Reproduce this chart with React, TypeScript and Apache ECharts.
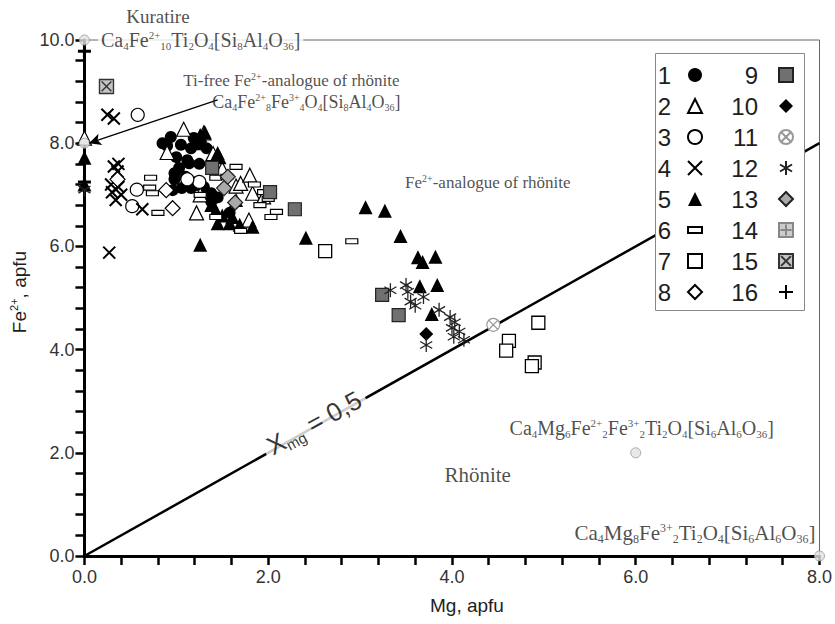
import React, { useEffect, useRef } from "react";
import * as echarts from "echarts";

// ---------- data (apfu) ----------
const xTickRange = [0, 8];
const yTickRange = [0, 10];

const s1Points = [[0.85,8.0],[0.94,8.12],[1.05,7.97],[1.19,8.1],[1.16,7.9],[1.0,7.73],[1.12,7.67],[1.03,7.52],[0.98,7.3],[0.96,7.09],[1.06,7.13],[1.16,7.13],[1.22,7.19],[1.3,7.15],[1.22,7.25],[1.26,8.02],[1.33,7.9],[1.38,7.03],[1.38,6.87],[1.58,6.65],[1.1,7.35],[1.25,7.6],[1.45,6.95],[0.9,7.95],[1.14,7.61],[0.98,7.42]];
const s2Points = [[0,8.1],[1.08,8.27],[0.9,7.82],[1.26,7.0],[1.22,6.65],[1.4,7.8],[1.3,8.2],[1.65,7.17],[1.7,7.22],[1.8,7.38],[1.83,7.03],[1.95,6.96],[1.79,6.51],[1.5,7.5]];
const s3Points = [[0.58,8.55],[0.57,7.1],[0.52,6.78],[1.25,7.25],[1.12,7.3]];
const s4Points = [[0.25,8.55],[0.32,8.48],[0.32,7.55],[0.37,7.6],[0.36,7.45],[0.29,7.2],[0.37,7.15],[0.3,7.05],[0.4,7.0],[0.34,6.9],[0.63,6.72],[0.27,5.88]];
const s5Points = [[0,7.72],[0,7.2],[1.22,8.0],[1.26,8.16],[1.31,8.21],[1.45,7.81],[1.47,7.73],[1.38,6.8],[1.43,6.7],[1.45,6.45],[1.58,6.45],[1.61,6.57],[1.69,6.42],[1.83,6.38],[1.26,6.03],[2.41,6.17],[3.06,6.76],[3.27,6.69],[3.44,6.2],[3.63,5.79],[3.68,5.7],[3.82,5.8],[3.65,5.23],[3.84,5.25],[3.78,4.69],[1.5,6.6],[1.65,6.9]];
const s6Points = [[0.72,7.33],[0.71,7.14],[0.74,7.03],[0.8,6.65],[1.43,7.33],[1.65,7.54],[1.55,7.35],[1.85,7.2],[1.95,7.05],[2.0,6.92],[1.91,6.8],[2.09,6.67],[2.03,6.57],[1.43,6.57],[1.26,7.0],[2.91,6.1],[1.7,6.3]];
const s7Points = [[2.62,5.91],[4.94,4.52],[4.62,4.17],[4.59,3.98],[4.9,3.75],[4.87,3.68]];
const s8Points = [[0.36,7.3],[0.89,7.09],[0.96,6.74]];
const s9Points = [[1.39,7.52],[2.02,7.05],[2.29,6.72],[3.24,5.06],[3.42,4.67]];
const s10Points = [[3.72,4.3]];
const s11Points = [[4.45,4.48]];
const s12Points = [[0,7.1],[3.33,5.15],[3.5,5.25],[3.52,5.12],[3.55,4.93],[3.69,5.02],[3.6,4.85],[3.86,4.77],[3.98,4.63],[4.03,4.53],[4.0,4.42],[4.02,4.25],[4.13,4.19],[3.72,4.09],[4.08,4.35]];
const s13Points = [[1.52,7.13],[1.64,6.85],[1.56,7.35]];
const s14Points: number[][] = [];
const s15Points = [[0.24,9.1]];
const s16Points = [[0,9.78],[0,7.25]];

const seriesNames = ["1","2","3","4","5","6","7","8","9","10","11","12","13","14","15","16"];
const seriesPoints = [s1Points,s2Points,s3Points,s4Points,s5Points,s6Points,s7Points,s8Points,s9Points,s10Points,s11Points,s12Points,s13Points,s14Points,s15Points,s16Points];

// end-member compositions
const endMemberPoints = [[0,10],[0,8],[6,2],[8,0]];
const endMemberFormulas = [
  "Ca_4Fe^2+_10Ti_2O_4[Si_8Al_4O_36]",
  "",
  "Ca_4Mg_6Fe^2+_2Fe^3+_2Ti_2O_4[Si_6Al_6O_36]",
  "Ca_4Mg_8Fe^3+_2Ti_2O_4[Si_6Al_6O_36]",
];

// X_mg = 0.5 line
const xmgLine = [[0,0],[8,8]];

// field / end-member annotations (data coordinates)
const annotationTexts = ["Kuratire","Ti-free Fe^2+-analogue of rhönite","Ca_4Fe^2+_8Fe^3+_4O_4[Si_8Al_4O_36]","Fe^2+-analogue of rhönite","Rhönite"];
const annotationCoords = [[0.8,10.45],[3.43,9.21],[3.44,8.79],[4.39,7.23],[4.28,1.57]];
const xmgLabelCoord = [2.5,2.58];
const arrowFrom = [1.45,8.84];
const arrowTo = [0.05,8.0];

// ---------- helpers ----------
function toRich(s: string): string {
  const re = /_(\d+)|\^(\d+\+)|([^_^]+)/g;
  let out = "";
  let m: RegExpExecArray | null;
  while ((m = re.exec(s))) {
    if (m[1]) out += `{b|${m[1]}}`;
    else if (m[2]) out += `{t|${m[2]}}`;
    else out += `{n|${m[3]}}`;
  }
  return out;
}

const SERIF = "Liberation Serif";
const SANS = "Liberation Sans";
const INK = "#1e1e1e";

function serifRich(size: number) {
  const small = Math.round(size * 0.56);
  return {
    n: { fontFamily: SERIF, fontSize: size, lineHeight: Math.round(size * 1.1), color: INK },
    b: { fontFamily: SERIF, fontSize: small, lineHeight: small, verticalAlign: "bottom", color: INK },
    t: { fontFamily: SERIF, fontSize: small, lineHeight: small - 1, verticalAlign: "top", color: INK },
  };
}

const P_X = "path://M0,0L10,10M10,0L0,10";
const P_AST = "path://M5,0L5,10M0.7,2.5L9.3,7.5M0.7,7.5L9.3,2.5";
const P_PLUS = "path://M5,0L5,10M0,5L10,5";
const P_CX = "path://M10,5A5,5,0,1,1,0,5A5,5,0,1,1,10,5ZM1.8,1.8L8.2,8.2M8.2,1.8L1.8,8.2";
const P_SQPLUS = "path://M0,0H10V10H0ZM5,1V9M1,5H9";
const P_SQX = "path://M0,0H10V10H0ZM1.5,1.5L8.5,8.5M8.5,1.5L1.5,8.5";
const P_BAR = "path://M0,0H12V5H0Z";

const markerStyles: any[] = [
  { symbol: "circle", size: 12, color: "#000", border: "#000", bw: 0 },
  { symbol: "triangle", size: 14, color: "#fff", border: "#000", bw: 1.2 },
  { symbol: "circle", size: 13, color: "#fff", border: "#000", bw: 1.2 },
  { symbol: P_X, size: 12, color: "rgba(0,0,0,0)", border: "#000", bw: 2 },
  { symbol: "triangle", size: 14, color: "#000", border: "#000", bw: 0 },
  { symbol: P_BAR, size: 12, color: "#fff", border: "#000", bw: 1.2 },
  { symbol: "rect", size: 13, color: "#fff", border: "#000", bw: 1.3 },
  { symbol: "diamond", size: 15, color: "#fff", border: "#000", bw: 1.2 },
  { symbol: "rect", size: 13, color: "#707070", border: "#222", bw: 1.2 },
  { symbol: "diamond", size: 14, color: "#000", border: "#000", bw: 0 },
  { symbol: P_CX, size: 13, color: "#fff", border: "#999", bw: 1.2 },
  { symbol: P_AST, size: 14, color: "rgba(0,0,0,0)", border: "#222", bw: 1.3 },
  { symbol: "diamond", size: 15, color: "#aaa", border: "#222", bw: 1.2 },
  { symbol: P_SQPLUS, size: 13, color: "#ccc", border: "#888", bw: 1 },
  { symbol: P_SQX, size: 14, color: "#c4c4c4", border: "#333", bw: 1.4 },
  { symbol: P_PLUS, size: 13, color: "rgba(0,0,0,0)", border: "#000", bw: 3 },
];

function buildOption(): any {
  const dataSeries = seriesNames.map((name, i) => {
    const st = markerStyles[i];
    return {
      name,
      type: "scatter",
      data: seriesPoints[i],
      symbol: st.symbol,
      symbolSize: st.size,
      symbolKeepAspect: true,
      clip: false,
      silent: true,
      z: 3,
      itemStyle: { color: st.color, borderColor: st.border, borderWidth: st.bw, opacity: 1 },
    };
  });

  const endMemberData = endMemberPoints.map((p, i) => {
    const item: any = { value: p, name: endMemberFormulas[i] };
    if (i === 0) item.label = { show: true, position: "right", distance: 8, backgroundColor: "#fff", padding: [0, 3, 0, 3], rich: serifRich(20) };
    if (i === 2) item.label = { show: true, position: "top", distance: 8, offset: [6, 0], rich: serifRich(20) };
    if (i === 3) item.label = { show: true, position: "top", align: "right", distance: 6, offset: [-4, 0], rich: serifRich(21) };
    return item;
  });

  const annotationSizes = [19, 17, 18, 17, 21];
  const annotationData: any[] = annotationTexts.map((t, i) => {
    const item: any = { value: annotationCoords[i], name: t, label: { rich: serifRich(annotationSizes[i]) } };
    if (i === 1 || i === 2) {
      item.label.position = "left";
      item.label.distance = 0;
    }
    return item;
  });

  return {
    animation: false,
    backgroundColor: "#fff",
    textStyle: { fontFamily: SANS },
    grid: { left: 68, right: 13, top: 40, bottom: 68, show: true, borderColor: "#666", borderWidth: 1 },
    xAxis: {
      type: "value",
      min: xTickRange[0],
      max: xTickRange[1],
      interval: 2,
      name: "Mg, apfu",
      nameLocation: "middle",
      nameGap: 40,
      nameTextStyle: { fontFamily: SANS, fontSize: 19, color: INK, padding: [0, 0, 0, 30] },
      axisLine: { lineStyle: { color: "#000", width: 3 } },
      axisTick: { show: true, length: 9, lineStyle: { color: "#000", width: 2.5 } },
      minorTick: { show: true, splitNumber: 5, length: 9, lineStyle: { color: "#000", width: 2.5 } },
      splitLine: { show: false },
      axisLabel: { fontFamily: SANS, fontSize: 18, color: "#333", margin: 12, formatter: (v: number) => v.toFixed(1) },
    },
    yAxis: {
      type: "value",
      min: yTickRange[0],
      max: yTickRange[1],
      interval: 2,
      name: "{a|Fe}{s|2+}{a|, apfu}",
      nameLocation: "middle",
      nameGap: 36,
      nameTextStyle: {
        padding: [0, 0, 0, 12],
        rich: {
          a: { fontFamily: SANS, fontSize: 19, lineHeight: 22, color: INK },
          s: { fontFamily: SANS, fontSize: 11, lineHeight: 11, verticalAlign: "top", color: INK },
        },
      },
      axisLine: { lineStyle: { color: "#000", width: 3 } },
      axisTick: { show: true, length: 9, lineStyle: { color: "#000", width: 2.5 } },
      minorTick: { show: true, splitNumber: 5, length: 9, lineStyle: { color: "#000", width: 2.5 } },
      splitLine: { show: false },
      axisLabel: { fontFamily: SANS, fontSize: 18, color: "#333", margin: 10, formatter: (v: number) => v.toFixed(1) },
    },
    legend: [
      {
        data: seriesNames.slice(0, 8),
        orient: "vertical",
        align: "right",
        right: 132,
        top: 63,
        padding: 0,
        itemWidth: 14,
        itemHeight: 14,
        itemGap: 7,
        selectedMode: false,
        z: 10,
        textStyle: { fontFamily: SANS, fontSize: 24, lineHeight: 24, color: INK, padding: [0, 12, 0, 0] },
      },
      {
        data: seriesNames.slice(8),
        orient: "vertical",
        align: "right",
        right: 41,
        top: 63,
        padding: 0,
        itemWidth: 14,
        itemHeight: 14,
        itemGap: 7,
        selectedMode: false,
        z: 10,
        textStyle: { fontFamily: SANS, fontSize: 24, lineHeight: 24, color: INK, padding: [0, 16, 0, 0] },
      },
    ],
    graphic: [
      {
        type: "rect",
        left: 655,
        top: 53,
        z: 5,
        shape: { width: 149, height: 257 },
        style: { fill: "#fff", stroke: "#888", lineWidth: 1 },
      },
    ],
    series: [
      {
        name: "xmg",
        type: "line",
        data: xmgLine,
        symbol: "none",
        silent: true,
        z: 1,
        lineStyle: { color: "#000", width: 2.5 },
      },
      ...dataSeries,
      {
        name: "endmembers",
        type: "scatter",
        data: endMemberData,
        symbol: "circle",
        symbolSize: 10,
        clip: false,
        silent: true,
        z: 4,
        itemStyle: { color: "#e2e2e2", borderColor: "#999", borderWidth: 1 },
        label: { show: false, formatter: (p: any) => toRich(p.name), rich: serifRich(20), color: INK },
        markLine: {
          silent: true,
          symbol: ["none", "arrow"],
          symbolSize: [9, 12],
          label: { show: false },
          lineStyle: { color: "#000", width: 1.3, type: "solid" },
          data: [[{ coord: arrowFrom }, { coord: arrowTo }]],
        },
      },
      {
        name: "annotations",
        type: "scatter",
        data: annotationData,
        symbol: "circle",
        symbolSize: 0,
        clip: false,
        silent: true,
        z: 6,
        itemStyle: { color: "rgba(0,0,0,0)" },
        label: { show: true, position: "inside", formatter: (p: any) => toRich(p.name), rich: serifRich(19), color: INK },
      },
      {
        name: "xmgLabel",
        type: "scatter",
        data: [xmgLabelCoord],
        symbol: "circle",
        symbolSize: 0,
        clip: false,
        silent: true,
        z: 6,
        itemStyle: { color: "rgba(0,0,0,0)" },
        label: {
          show: true,
          position: "inside",
          rotate: 28.7,
          backgroundColor: "#fff",
          padding: [0, 5, 0, 5],
          formatter: "{x|X}{m|mg}{x| = 0,5}",
          rich: {
            x: { fontFamily: SANS, fontSize: 26, lineHeight: 30, color: "#000" },
            m: { fontFamily: SANS, fontSize: 15, lineHeight: 16, verticalAlign: "bottom", color: "#000" },
          },
        },
      },
    ],
  };
}

export default function App() {
  const ref = useRef<HTMLDivElement>(null);
  useEffect(() => {
    if (!ref.current) return;
    const chart = echarts.init(ref.current, null, { renderer: "svg" });
    chart.setOption(buildOption());
    return () => chart.dispose();
  }, []);
  return (
    <div
      ref={ref}
      style={{ position: "fixed", left: 0, top: 0, width: 835, height: 624, background: "#fff" }}
    />
  );
}
